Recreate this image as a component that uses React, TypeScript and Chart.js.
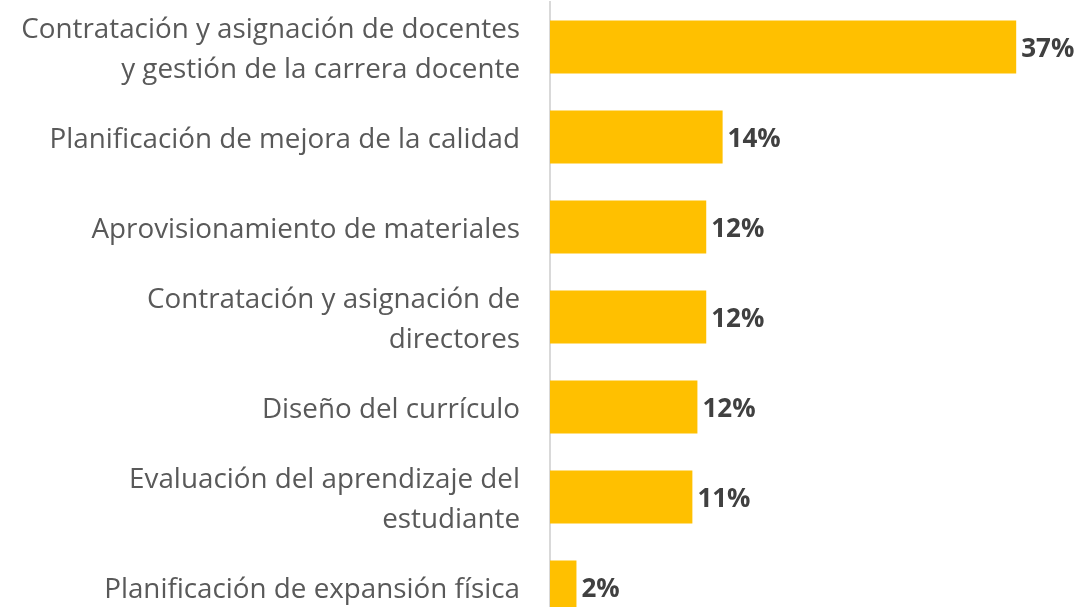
import React, { useEffect, useRef } from "react";
import { Chart, registerables } from "chart.js";

Chart.register(...registerables);

const categories: (string | string[])[] = [
  ["Contratación y asignación de docentes", "y gestión de la carrera docente"],
  "Planificación de mejora de la calidad",
  "Aprovisionamiento de materiales",
  ["Contratación y asignación de", "directores"],
  "Diseño del currículo",
  ["Evaluación del aprendizaje del", "estudiante"],
  "Planificación de expansión física",
];

const values: number[] = [37, 13.7, 12.4, 12.4, 11.7, 11.3, 2.1];

const FONT = "'Open Sans', 'DejaVu Sans', sans-serif";

const dataLabelPlugin = {
  id: "dataLabels",
  afterDatasetsDraw(chart: any) {
    const ctx = chart.ctx;
    const meta = chart.getDatasetMeta(0);
    ctx.save();
    ctx.font = `bold 26px ${FONT}`;
    ctx.fillStyle = "#404040";
    ctx.textAlign = "left";
    ctx.textBaseline = "middle";
    meta.data.forEach((bar: any, i: number) => {
      const v = values[i];
      ctx.fillText(`${Math.round(v)}%`, bar.x + 5, bar.y + 3);
    });
    ctx.restore();
  },
};

export default function App() {
  const ref = useRef<HTMLCanvasElement | null>(null);

  useEffect(() => {
    if (!ref.current) return;
    const chart = new Chart(ref.current, {
      type: "bar",
      data: {
        labels: categories,
        datasets: [
          {
            data: values,
            backgroundColor: "#FFC000",
            borderWidth: 0,
            categoryPercentage: 0.59,
            barPercentage: 1,
          },
        ],
      },
      options: {
        indexAxis: "y",
        animation: false,
        responsive: false,
        layout: { padding: { top: 2, bottom: 8, right: 27, left: 0 } },
        plugins: {
          legend: { display: false },
          tooltip: { enabled: false },
        },
        scales: {
          x: {
            display: false,
            min: 0,
            max: 40,
          },
          y: {
            grid: { display: false, drawTicks: false },
            border: { display: true, color: "#d9d9d9", width: 2 },
            ticks: {
              color: "#595959",
              padding: 30,
              labelOffset: 3,
              font: { family: FONT, size: 27.8, lineHeight: 1.44 },
            },
            afterFit(scale: any) {
              scale.width = 550;
              scale.paddingTop = 0;
              scale.paddingBottom = 0;
            },
          },
        },
      },
      plugins: [dataLabelPlugin],
    });
    return () => chart.destroy();
  }, []);

  return (
    <div
      style={{
        position: "fixed",
        top: 0,
        left: 0,
        width: 1081,
        height: 607,
        overflow: "hidden",
        background: "#ffffff",
      }}
    >
      <canvas
        ref={ref}
        width={1081}
        height={640}
        style={{ width: 1081, height: 640, display: "block" }}
      />
    </div>
  );
}
